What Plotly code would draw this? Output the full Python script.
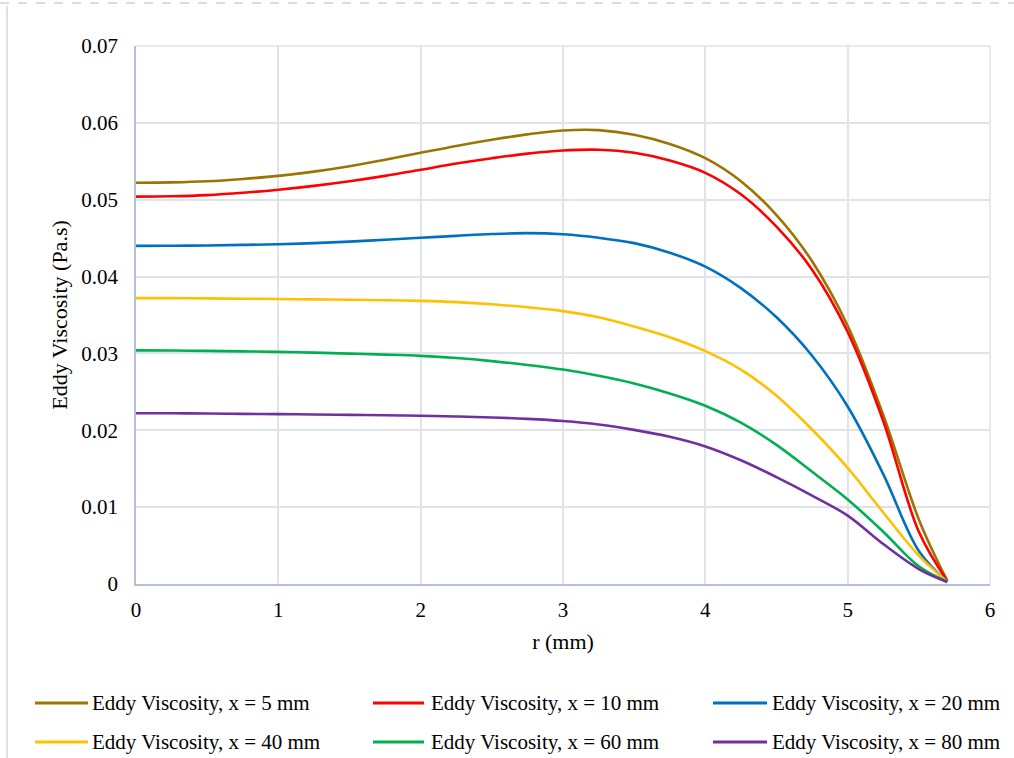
import plotly.graph_objects as go

# Radial positions (mm)
r_mm = [0, 0.25, 0.5, 0.75, 1, 1.25, 1.5, 1.75, 2, 2.25, 2.5, 2.75, 3, 3.25, 3.5,
        3.75, 4, 4.25, 4.5, 4.75, 5, 5.25, 5.5, 5.7]

# Eddy viscosity profiles (Pa.s) at several axial stations
nu_x5 = [0.05220, 0.05225, 0.05240, 0.05270, 0.05310, 0.05365, 0.05435, 0.05520, 0.05610, 0.05700,
         0.05780, 0.05850, 0.05900, 0.05905, 0.05845, 0.05725, 0.05540, 0.05240, 0.04800, 0.04200,
         0.03360, 0.02200, 0.00840, 0.00040]
nu_x10 = [0.05040, 0.05045, 0.05060, 0.05090, 0.05130, 0.05180, 0.05240, 0.05310, 0.05390, 0.05470,
          0.05540, 0.05600, 0.05640, 0.05650, 0.05610, 0.05510, 0.05350, 0.05070, 0.04650, 0.04090,
          0.03280, 0.02120, 0.00680, 0.00040]
nu_x20 = [0.04400, 0.04401, 0.04405, 0.04412, 0.04421, 0.04435, 0.04455, 0.04480, 0.04505, 0.04530,
          0.04553, 0.04565, 0.04550, 0.04505, 0.04435, 0.04310, 0.04130, 0.03850, 0.03470, 0.02970,
          0.02310, 0.01430, 0.00430, 0.00030]
nu_x40 = [0.03720, 0.03719, 0.03716, 0.03712, 0.03708, 0.03703, 0.03698, 0.03692, 0.03684, 0.03668,
          0.03640, 0.03600, 0.03550, 0.03470, 0.03350, 0.03210, 0.03030, 0.02790, 0.02450, 0.02010,
          0.01510, 0.00930, 0.00370, 0.00030]
nu_x60 = [0.03040, 0.03038, 0.03033, 0.03027, 0.03020, 0.03010, 0.02998, 0.02985, 0.02968, 0.02940,
          0.02900, 0.02850, 0.02790, 0.02710, 0.02610, 0.02480, 0.02320, 0.02100, 0.01810, 0.01460,
          0.01100, 0.00680, 0.00230, 0.00030]
nu_x80 = [0.02222, 0.02221, 0.02218, 0.02214, 0.02210, 0.02206, 0.02201, 0.02196, 0.02190, 0.02180,
          0.02167, 0.02148, 0.02120, 0.02075, 0.02005, 0.01915, 0.01790, 0.01610, 0.01390, 0.01150,
          0.00890, 0.00520, 0.00195, 0.00025]

series_names = [
    "Eddy Viscosity, x = 5 mm",
    "Eddy Viscosity, x = 10 mm",
    "Eddy Viscosity, x = 20 mm",
    "Eddy Viscosity, x = 40 mm",
    "Eddy Viscosity, x = 60 mm",
    "Eddy Viscosity, x = 80 mm",
]
series_values = [nu_x5, nu_x10, nu_x20, nu_x40, nu_x60, nu_x80]
series_colors = ["#9C7400", "#FF0000", "#0070C0", "#FFC000", "#00B050", "#7030A0"]

y_tick_vals = [0, 0.01, 0.02, 0.03, 0.04, 0.05, 0.06, 0.07]
y_tick_text = ["0", "0.01", "0.02", "0.03", "0.04", "0.05", "0.06", "0.07"]

W, H = 1014, 758
ML, MR, MT, MB = 136, 24, 46, 174
PW, PH = W - ML - MR, H - MT - MB
FONT = "Liberation Serif"


def px(xp):
    return (xp - ML) / PW


def py(yp):
    return (H - MB - yp) / PH


fig = go.Figure()
for name, vals, col in zip(series_names, series_values, series_colors):
    fig.add_trace(go.Scatter(
        x=r_mm, y=vals, mode="lines", name=name,
        line=dict(color=col, width=2.6, shape="spline", smoothing=1.0),
        showlegend=False,
    ))

# Legend drawn as line samples + labels, 3 columns x 2 rows
col_x = [(35, 88, 90), (373, 424, 429), (713, 767, 770)]
row_y = [703, 742]
shapes = []
annotations = []
for i, (name, col) in enumerate(zip(series_names, series_colors)):
    cx = col_x[i % 3]
    ry = row_y[i // 3]
    shapes.append(dict(type="line", xref="paper", yref="paper",
                       x0=px(cx[0]), x1=px(cx[1]), y0=py(ry), y1=py(ry),
                       line=dict(color=col, width=3)))
    annotations.append(dict(xref="paper", yref="paper", x=px(cx[2]), y=py(ry),
                            text=name, showarrow=False, xanchor="left", yanchor="middle",
                            font=dict(family=FONT, size=21, color="#000000")))

# Outer frame edges
shapes.append(dict(type="line", xref="paper", yref="paper",
                   x0=px(0), x1=px(W), y0=py(3), y1=py(3),
                   line=dict(color="#b8b8b8", width=1, dash="dash")))
shapes.append(dict(type="line", xref="paper", yref="paper",
                   x0=px(7), x1=px(7), y0=py(6), y1=py(H),
                   line=dict(color="#dde2ea", width=2)))
# Top and right borders of the plot area
shapes.append(dict(type="line", xref="paper", yref="paper", x0=1, x1=1, y0=0, y1=1,
                   line=dict(color="#dfe3ea", width=1.5)))
shapes.append(dict(type="line", xref="paper", yref="paper", x0=0, x1=1, y0=1, y1=1,
                   line=dict(color="#dfe3ea", width=1.5)))

tick_font = dict(family=FONT, size=21, color="#000000")
title_font = dict(family=FONT, size=22, color="#000000")

fig.update_layout(
    width=W, height=H,
    margin=dict(l=ML, r=MR, t=MT, b=MB),
    paper_bgcolor="white", plot_bgcolor="white",
    font=dict(family=FONT, size=21, color="#000000"),
    xaxis=dict(range=[0, 6], tickmode="linear", dtick=1, tick0=0, ticklabelstandoff=6,
               title=dict(text="r (mm)", font=title_font, standoff=13),
               showgrid=True, gridcolor="#dfe3ea", gridwidth=1.5,
               zeroline=False, showline=True, linecolor="#b4c1d6", linewidth=1.5,
               ticks="", tickfont=tick_font),
    yaxis=dict(range=[0, 0.07], tickmode="array", tickvals=y_tick_vals, ticktext=y_tick_text,
               ticklabelstandoff=12,
               title=dict(text="Eddy Viscosity (Pa.s)", font=title_font, standoff=8),
               showgrid=True, gridcolor="#dfe3ea", gridwidth=1.5,
               zeroline=False, showline=True, linecolor="#b4c1d6", linewidth=1.5,
               ticks="", tickfont=tick_font),
    shapes=shapes,
    annotations=annotations,
)

fig.write_html("out.html")
